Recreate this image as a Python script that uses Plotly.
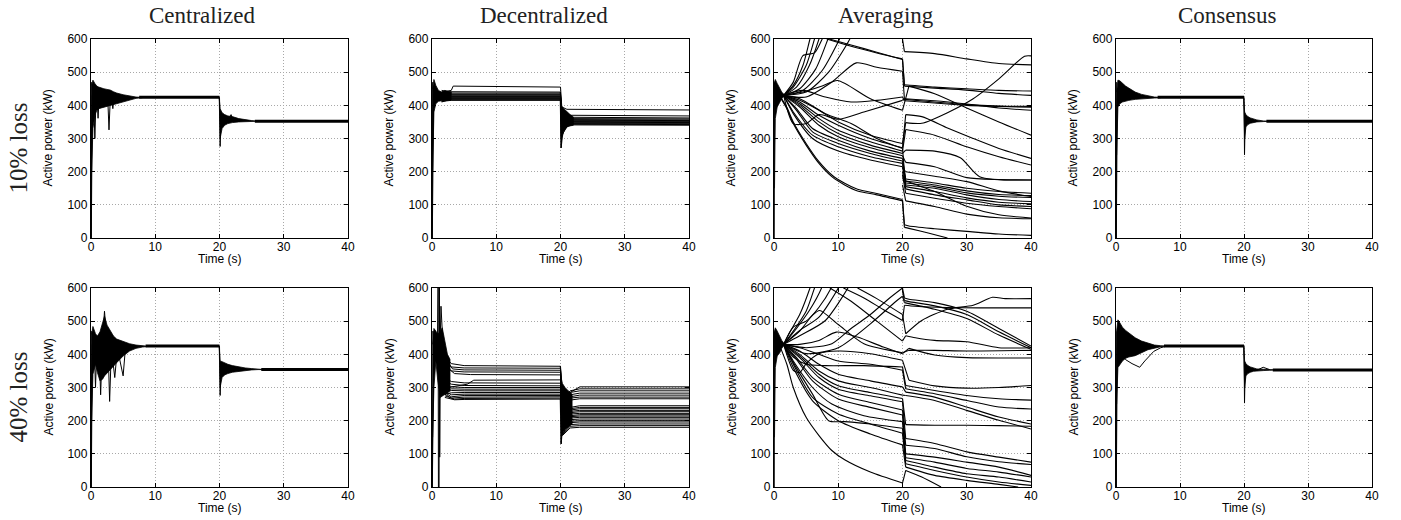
import plotly.graph_objects as go

W, H = 1401, 520

# ---------------- titles / labels ----------------
col_titles = ["Centralized", "Decentralized", "Averaging", "Consensus"]
row_titles = ["10% loss", "40% loss"]
x_title = "Time (s)"
y_title = "Active power (kW)"
x_ticks = [0, 10, 20, 30, 40]
y_ticks = [0, 100, 200, 300, 400, 500, 600]

# ---------------- Centralized 10% ----------------
cen10_band1_t = [0.1, 0.3, 0.6, 0.9, 1.2, 1.6, 2.0, 2.5, 3.0, 3.5, 4.0, 5.0, 6.0, 7.0, 8.0]
cen10_band1_hi = [460, 476, 466, 458, 455, 452, 450, 448, 446, 441, 437, 432, 428, 425, 424]
cen10_band1_lo = [200, 330, 370, 385, 390, 392, 395, 398, 400, 402, 404, 409, 416, 421, 423]
cen10_band2_t = [19.95, 20.1, 20.4, 20.8, 21.3, 22.0, 23.0, 24.0, 25.0, 26.0]
cen10_band2_hi = [424, 390, 378, 372, 368, 366, 360, 356, 354, 352]
cen10_band2_lo = [424, 300, 330, 340, 345, 348, 350, 351, 352, 352]
cen10_lines = [
    [[0.0, 0], [0.05, 0], [0.1, 470]],
    [[0.05, 0], [0.12, 200], [0.2, 430]],
    [[0.4, 440], [0.6, 300], [0.8, 430]],
    [[0.9, 440], [1.1, 361], [1.3, 440]],
    [[2.6, 425], [2.8, 326], [3.0, 420]],
    [[3.2, 420], [3.4, 390], [3.6, 425]],
    [[20.0, 424], [20.1, 276], [20.25, 380]],
    [[21.5, 360], [21.8, 372], [22.1, 355]],
]
cen10_flat = [[[7.5, 424], [20.0, 424]], [[25.5, 352], [40, 352]]]

# ---------------- Centralized 40% ----------------
cen40_band1_t = [0.1, 0.3, 0.7, 1.0, 1.4, 1.8, 2.1, 2.5, 3.0, 3.5, 4.0, 5.0, 6.0, 7.0, 8.0, 9.0]
cen40_band1_hi = [460, 484, 462, 455, 468, 500, 515, 488, 470, 455, 446, 438, 432, 428, 425, 424]
cen40_band1_lo = [200, 340, 370, 345, 320, 325, 335, 345, 355, 365, 375, 395, 410, 418, 422, 424]
cen40_band2_t = [19.95, 20.1, 20.4, 20.8, 21.3, 22.0, 23.0, 24.0, 25.0, 26.0, 27.0]
cen40_band2_hi = [425, 380, 378, 374, 370, 366, 362, 359, 357, 355, 354]
cen40_band2_lo = [425, 300, 330, 338, 342, 346, 349, 351, 353, 354, 354]
cen40_lines = [
    [[0.0, 0], [0.05, 0], [0.1, 470]],
    [[0.05, 0], [0.12, 200], [0.2, 430]],
    [[0.5, 430], [0.7, 300], [0.9, 420]],
    [[1.3, 400], [1.5, 278], [1.7, 390]],
    [[2.7, 390], [2.9, 258], [3.1, 375]],
    [[1.9, 470], [2.1, 530], [2.3, 480]],
    [[3.4, 380], [3.7, 330], [4.0, 395]],
    [[4.3, 400], [5.0, 335], [5.3, 405]],
    [[20.0, 425], [20.1, 276], [20.25, 375]],
]
cen40_flat = [[[8.5, 425], [20.0, 425]], [[26.5, 354], [40, 354]]]

# ---------------- Consensus 10% ----------------
con10_band1_t = [0.1, 0.3, 0.6, 1.0, 1.5, 2.0, 3.0, 4.0, 5.0, 6.0, 7.0]
con10_band1_hi = [440, 476, 474, 466, 458, 452, 440, 433, 428, 425, 424]
con10_band1_lo = [250, 395, 405, 410, 413, 415, 418, 420, 421, 422, 423]
con10_band2_t = [19.95, 20.1, 20.3, 20.6, 21.0, 21.5, 22.0, 23.0, 24.0]
con10_band2_hi = [424, 380, 372, 366, 362, 358, 356, 353, 352]
con10_band2_lo = [424, 300, 335, 342, 346, 349, 350, 351, 352]
con10_lines = [
    [[0.0, 0], [0.05, 0], [0.1, 470]],
    [[0.05, 0], [0.1, 250], [0.2, 420]],
    [[20.0, 424], [20.08, 251], [20.2, 370]],
]
con10_flat = [[[6.5, 424], [20.0, 424]], [[23.5, 352], [40, 352]]]

# ---------------- Consensus 40% ----------------
con40_band1_t = [0.1, 0.3, 0.6, 1.0, 1.5, 2.0, 3.0, 4.0, 5.0, 6.0, 7.0, 8.0]
con40_band1_hi = [470, 504, 495, 482, 472, 464, 450, 440, 433, 428, 426, 425]
con40_band1_lo = [250, 360, 370, 380, 388, 392, 396, 405, 414, 419, 423, 425]
con40_band2_t = [19.95, 20.1, 20.3, 20.6, 21.0, 21.5, 22.0, 23.0, 24.0, 25.0]
con40_band2_hi = [425, 380, 372, 366, 362, 358, 356, 355, 354, 353]
con40_band2_lo = [425, 300, 335, 342, 346, 349, 350, 351, 352, 353]
con40_lines = [
    [[0.0, 0], [0.05, 0], [0.1, 470]],
    [[0.05, 0], [0.1, 250], [0.2, 420]],
    [[1.0, 400], [1.5, 384], [2.5, 372], [3.7, 361], [4.5, 380], [5.9, 409], [7.0, 420], [8.0, 425]],
    [[20.0, 425], [20.08, 253], [20.2, 370]],
    [[22.0, 352], [23.0, 361], [24.0, 354]],
]
con40_flat = [[[7.5, 425], [20.0, 425]], [[24.5, 353], [40, 353]]]

# ---------------- Decentralized 10% ----------------
dec10_band1_t = [0.1, 0.3, 0.6, 1.0, 1.5, 2.0, 2.5, 3.0]
dec10_band1_hi = [450, 478, 460, 445, 440, 445, 442, 440]
dec10_band1_lo = [200, 380, 405, 412, 414, 415, 415, 415]
dec10_band2_t = [19.95, 20.1, 20.4, 21.0, 21.5, 22.0]
dec10_band2_hi = [440, 400, 392, 380, 372, 365]
dec10_band2_lo = [420, 272, 320, 335, 338, 340]
dec10_lines = [
    [[0.0, 0], [0.05, 0], [0.1, 470]],
    [[0.05, 0], [0.12, 250], [0.25, 440]],
    [[1.5, 440], [3.0, 445], [3.3, 458], [20, 455]],
    [[1.5, 445], [2.5, 441], [20, 440]],
    [[1.5, 420], [2.5, 437], [20, 437]],
    [[1.5, 430], [2.5, 434], [20, 434]],
    [[1.5, 425], [3.0, 432], [20, 432]],
    [[1.5, 418], [3.0, 429], [20, 429]],
    [[1.5, 435], [3.0, 427], [20, 427]],
    [[1.5, 412], [3.0, 425], [20, 425]],
    [[1.5, 440], [3.0, 423], [20, 423]],
    [[1.5, 415], [3.0, 421], [20, 421]],
    [[1.5, 410], [3.0, 419], [20, 419]],
    [[1.5, 420], [3.0, 417], [20, 417]],
    [[1.5, 412], [3.0, 415], [20, 415]],
    [[20, 455], [20.2, 395], [21, 388], [40, 386]],
    [[20, 440], [20.1, 300], [21.5, 370], [40, 368]],
    [[20, 437], [20.2, 330], [21.5, 364], [40, 362]],
    [[20, 434], [20.2, 340], [21.5, 360], [40, 359]],
    [[20, 432], [20.2, 350], [21.5, 357], [40, 356]],
    [[20, 429], [20.2, 320], [21.5, 355], [40, 354]],
    [[20, 427], [20.2, 335], [21.5, 353], [40, 352]],
    [[20, 425], [20.2, 310], [21.5, 351], [40, 350]],
    [[20, 423], [20.2, 345], [21.5, 349], [40, 348]],
    [[20, 421], [20.2, 330], [21.5, 347], [40, 346]],
    [[20, 419], [20.2, 340], [21.5, 345], [40, 344]],
    [[20, 417], [20.2, 320], [21.5, 343], [40, 342]],
    [[20, 415], [20.2, 335], [21.5, 341], [40, 340]],
    [[20.0, 430], [20.1, 272], [20.3, 380]],
]

# ---------------- Decentralized 40% ----------------
dec40_band1_t = [0.1, 0.3, 0.6, 0.9, 1.3, 1.6, 2.0, 2.4, 2.8]
dec40_band1_hi = [430, 478, 470, 460, 470, 480, 440, 400, 385]
dec40_band1_lo = [150, 300, 380, 320, 270, 275, 280, 285, 290]
dec40_band2_t = [19.95, 20.1, 20.3, 20.7, 21.2, 21.8]
dec40_band2_hi = [365, 330, 312, 300, 290, 280]
dec40_band2_lo = [265, 130, 170, 175, 180, 190]
dec40_lines = [
    [[0.0, 0], [0.05, 0], [0.15, 470], [0.3, 430], [0.5, 465], [0.7, 420], [0.9, 440]],
    [[0.05, 0], [0.15, 300], [0.3, 450], [0.5, 400], [0.7, 455], [0.9, 400]],
    [[0.85, 430], [0.95, 610], [1.0, 0], [1.1, 0], [1.15, 610], [1.2, 90], [1.3, 400]],
    [[1.25, 420], [1.4, 545], [1.6, 470], [1.9, 420], [2.3, 390]],
    [[2.0, 395], [3.0, 372], [5, 366], [20, 364]],
    [[2.0, 380], [3.0, 362], [5, 359], [20, 358]],
    [[2.2, 385], [3.2, 356], [5, 353], [20, 352]],
    [[2.0, 370], [3.0, 350], [5, 347], [20, 346]],
    [[2.4, 360], [3.5, 342], [6, 339], [20, 338]],
    [[2.5, 300], [4.0, 305], [5.5, 310], [6.5, 322], [20, 323]],
    [[2.0, 330], [3.0, 318], [5, 314], [20, 313]],
    [[2.0, 320], [3.0, 310], [5, 306], [20, 305]],
    [[2.0, 300], [3.0, 302], [5, 300], [20, 300]],
    [[2.0, 290], [3.0, 296], [5, 295], [20, 295]],
    [[2.0, 285], [3.0, 291], [5, 290], [20, 290]],
    [[2.0, 280], [3.0, 284], [5, 285], [20, 285]],
    [[2.0, 290], [3.0, 278], [5, 280], [20, 280]],
    [[2.0, 285], [3.0, 272], [5, 276], [20, 276]],
    [[2.0, 280], [3.0, 268], [5, 271], [20, 272]],
    [[2.0, 275], [3.5, 265], [5, 267], [20, 268]],
    [[2.0, 270], [3.5, 263], [5, 264], [20, 265]],
    [[20, 364], [20.3, 270], [21.5, 285], [23, 302], [40, 302]],
    [[20, 358], [20.3, 260], [21.5, 290], [23, 296], [40, 296]],
    [[20, 352], [20.3, 250], [21.5, 285], [23, 290], [40, 290]],
    [[20, 346], [20.3, 240], [21.5, 278], [23, 283], [40, 283]],
    [[20, 338], [20.3, 235], [21.5, 272], [23, 277], [40, 277]],
    [[20, 323], [20.3, 230], [21.5, 268], [23, 271], [40, 271]],
    [[20, 313], [20.3, 225], [21.5, 262], [23, 266], [40, 266]],
    [[20, 305], [20.3, 200], [21.5, 240], [23, 245], [40, 245]],
    [[20, 300], [20.3, 195], [21.5, 236], [23, 240], [40, 240]],
    [[20, 295], [20.3, 190], [21.5, 232], [23, 236], [40, 236]],
    [[20, 290], [20.3, 185], [21.5, 228], [23, 231], [40, 231]],
    [[20, 285], [20.3, 180], [21.5, 224], [23, 227], [40, 227]],
    [[20, 280], [20.3, 175], [21.5, 220], [23, 222], [40, 222]],
    [[20, 276], [20.3, 172], [21.5, 215], [23, 218], [40, 218]],
    [[20, 272], [20.3, 170], [21.5, 212], [23, 214], [40, 214]],
    [[20, 268], [20.3, 168], [21.5, 208], [23, 210], [40, 210]],
    [[20, 265], [20.3, 166], [21.5, 203], [23, 205], [40, 205]],
    [[20, 300], [20.3, 165], [21.5, 198], [23, 200], [40, 200]],
    [[20, 290], [20.3, 162], [21.5, 194], [23, 196], [40, 196]],
    [[20, 285], [20.3, 160], [21.5, 188], [23, 190], [40, 190]],
    [[20, 280], [20.3, 158], [21.5, 183], [23, 185], [40, 185]],
    [[20, 275], [20.3, 155], [21.5, 178], [23, 180], [40, 180]],
    [[20.0, 300], [20.1, 130], [20.3, 250]],
]

# ---------------- Averaging 10% ----------------
avg10_band1_t = [0.08, 0.2, 0.5, 0.9, 1.2, 1.6]
avg10_band1_hi = [470, 478, 466, 452, 440, 432]
avg10_band1_lo = [150, 360, 395, 410, 420, 428]
avg10_lines = [[[0.0, 0], [0.04, 0], [0.08, 470]]]
avg10_pre = [
    [[1.5, 430], [3, 460], [4.5, 520], [5.6, 600], [6, 625]],
    [[1.5, 430], [3, 470], [4.5, 550], [6.3, 558], [7.5, 600], [8, 620]],
    [[1.5, 430], [3, 455], [5, 520], [6.3, 600], [6.6, 620]],
    [[1.5, 430], [3.5, 455], [5.5, 520], [7, 600], [7.3, 620]],
    [[1.5, 430], [4, 450], [6.5, 510], [8.4, 600], [8.8, 620]],
    [[1.5, 430], [4.5, 445], [7.5, 505], [10.2, 600], [10.6, 620]],
    [[1.5, 430], [5, 440], [8.5, 500], [11.8, 600], [12.2, 620]],
    [[8.2, 600], [12, 578], [16, 558], [20, 540]],
    [[8.6, 600], [12, 582], [16, 560], [20, 538]],
    [[1.5, 430], [5, 425], [9, 470], [12.8, 528], [16, 515], [20, 503]],
    [[1.5, 430], [4.5, 440], [7.5, 458], [9.9, 475], [15, 420], [20, 385]],
    [[1.5, 430], [4.5, 445], [8, 425], [12, 410], [16, 415], [20, 425]],
    [[1.5, 430], [3, 345], [5, 345], [7, 372], [10, 358], [14, 380], [20, 415]],
    [[1.5, 430], [4, 415], [7, 385], [10, 350], [15, 310], [20, 285]],
    [[1.5, 430], [4, 410], [7, 370], [10, 340], [15, 300], [20, 272]],
    [[1.5, 430], [4, 405], [7, 360], [10, 325], [15, 290], [20, 262]],
    [[1.5, 430], [4, 400], [7, 350], [10, 315], [15, 280], [20, 255]],
    [[1.5, 430], [4, 395], [7, 340], [10, 305], [15, 272], [20, 248]],
    [[1.5, 430], [3.5, 390], [6, 330], [10, 295], [15, 262], [20, 240]],
    [[1.5, 430], [3.5, 385], [6, 320], [10, 285], [15, 255], [20, 232]],
    [[1.5, 430], [3, 380], [6, 310], [10, 275], [15, 245], [20, 225]],
    [[1.5, 430], [3, 375], [6, 300], [10, 262], [15, 235], [20, 215]],
    [[1.5, 430], [4, 420], [8, 375], [12, 345], [16, 300], [20, 270]],
    [[0.8, 430], [2, 390], [3, 345], [5, 280], [7, 225], [9, 185], [11, 160], [13, 142], [16, 130], [20, 112]],
    [[0.8, 432], [2, 394], [3, 350], [5, 285], [7, 230], [9, 190], [11, 165], [13, 147], [16, 134], [20, 116]],
]
avg10_post = [
    [[20, 600], [20.3, 562], [25, 556], [30, 540], [35, 526], [40, 522]],
    [[20, 540], [20.3, 462], [25, 455], [30, 450], [35, 445], [40, 443]],
    [[20, 538], [20.3, 458], [25, 452], [30, 446], [35, 436], [40, 430]],
    [[20, 503], [20.3, 418], [25, 410], [30, 402], [35, 398], [40, 397]],
    [[20, 425], [20.3, 414], [25, 407], [30, 400], [35, 397], [40, 394]],
    [[20, 415], [20.5, 420], [25, 414], [30, 404], [35, 392], [40, 385]],
    [[20, 385], [21, 458], [25, 435], [30, 392], [35, 350], [40, 310]],
    [[20, 285], [20.5, 348], [23, 346], [27, 378], [31, 420], [35, 480], [39, 548], [40, 549]],
    [[20, 272], [20.5, 372], [23, 366], [27, 332], [31, 300], [35, 270], [40, 240]],
    [[20, 262], [20.5, 327], [25, 310], [30, 275], [35, 245], [40, 220]],
    [[20, 255], [20.5, 265], [25, 262], [29, 242], [32, 185], [40, 175]],
    [[20, 248], [20.5, 228], [25, 215], [30, 182], [35, 176], [40, 175]],
    [[20, 240], [20.5, 178], [25, 166], [30, 150], [35, 140], [40, 135]],
    [[20, 232], [20.5, 172], [25, 160], [30, 142], [35, 131], [40, 128]],
    [[20, 225], [20.5, 166], [25, 155], [30, 136], [35, 126], [40, 122]],
    [[20, 215], [20.5, 160], [25, 150], [30, 130], [35, 116], [40, 110]],
    [[20, 270], [20.5, 155], [25, 140], [30, 121], [35, 108], [40, 103]],
    [[20, 200], [20.5, 148], [25, 130], [30, 115], [35, 100], [40, 95]],
    [[20, 190], [20.5, 135], [25, 120], [30, 105], [35, 95], [40, 88]],
    [[20, 180], [20.5, 172], [25, 140], [30, 96], [35, 70], [40, 60]],
    [[20, 160], [20.5, 112], [25, 95], [30, 72], [35, 61], [40, 58]],
    [[20, 115], [20.3, 40], [21, 36], [25, 28], [30, 20], [35, 12], [40, 8]],
    [[20, 112], [20.3, 32], [21, 29], [24, 15], [27, 0]],
    [[20, 210], [20.5, 200], [25, 186], [30, 170], [35, 142], [40, 125]],
]

# ---------------- Averaging 40% ----------------
avg40_band1_t = [0.08, 0.2, 0.5, 0.9, 1.2, 1.6]
avg40_band1_hi = [470, 480, 470, 455, 442, 432]
avg40_band1_lo = [150, 360, 395, 405, 418, 428]
avg40_lines = [[[0.0, 0], [0.04, 0], [0.08, 470]]]
avg40_pre = [
    [[1.5, 430], [2.5, 468], [4, 520], [5.6, 600], [6, 625]],
    [[1.5, 430], [3, 470], [5, 530], [6.3, 600], [6.7, 625]],
    [[1.5, 430], [3.5, 478], [5.5, 532], [7.4, 600], [7.8, 625]],
    [[1.5, 430], [3, 482], [5, 500], [7, 542], [8.9, 600], [9.3, 620]],
    [[1.5, 430], [4, 472], [7, 512], [10, 600], [10.4, 620]],
    [[1.5, 430], [4, 456], [8, 502], [11.5, 600], [12, 620]],
    [[1.5, 430], [5, 420], [9, 432], [12, 478], [15, 520], [18, 570], [20, 600]],
    [[1.5, 430], [5, 402], [10, 420], [15, 492], [19, 560], [20, 575]],
    [[8.7, 600], [12, 560], [16, 500], [20, 440]],
    [[10.8, 600], [14, 570], [17, 535], [20, 502]],
    [[13, 600], [16, 568], [20, 520]],
    [[1.5, 430], [4, 470], [6, 518], [7.1, 532], [10, 490], [14, 432], [20, 405]],
    [[1.5, 430], [4, 430], [7, 442], [9.7, 467], [13, 452], [17, 422], [20, 402]],
    [[1.5, 430], [3, 392], [5, 370], [8, 366], [14, 366], [20, 362]],
    [[1.5, 430], [3, 352], [4, 345], [5, 372], [7, 402], [10, 410], [15, 402], [20, 382]],
    [[1.5, 430], [4, 420], [7, 400], [10, 380], [15, 370], [20, 352]],
    [[1.5, 430], [4, 410], [7, 370], [10, 340], [15, 320], [20, 302]],
    [[1.5, 430], [4, 400], [7, 350], [10, 320], [15, 300], [20, 277]],
    [[1.5, 430], [4, 395], [7, 340], [10, 305], [15, 285], [20, 267]],
    [[1.5, 430], [4, 390], [7, 330], [10, 295], [15, 275], [20, 257]],
    [[1.5, 430], [3.5, 390], [6, 330], [10, 280], [15, 255], [20, 232]],
    [[1.5, 430], [3.5, 385], [6, 320], [10, 265], [15, 240], [20, 217]],
    [[1.5, 430], [3, 380], [6, 300], [9, 250], [14, 215], [20, 197]],
    [[1.5, 430], [3, 375], [6, 280], [8.5, 200], [11, 197], [15, 190], [20, 177]],
    [[1.5, 430], [3, 370], [6, 270], [10, 220], [15, 190], [20, 162]],
    [[1.5, 430], [3, 360], [6, 260], [10, 200], [15, 160], [20, 127]],
    [[0.8, 430], [2, 370], [3, 300], [5, 210], [7, 155], [9, 110], [11, 82], [15, 45], [20, 12]],
]
avg40_post = [
    [[20, 600], [20.3, 570], [21, 566], [25, 556], [30, 530], [35, 478], [40, 425]],
    [[20, 590], [20.3, 562], [21, 559], [25, 546], [30, 520], [35, 468], [40, 420]],
    [[20, 575], [20.3, 556], [25, 536], [30, 508], [35, 458], [40, 415]],
    [[20, 520], [20.5, 462], [23, 502], [27, 536], [31, 548], [34, 572], [36, 568], [40, 568]],
    [[20, 502], [20.3, 548], [22, 545], [27, 541], [32, 540], [40, 540]],
    [[20, 440], [20.5, 456], [22, 450], [25, 442], [30, 438], [35, 420], [40, 420]],
    [[20, 405], [21, 412], [25, 412], [30, 410], [40, 412]],
    [[20, 402], [21, 418], [25, 398], [30, 390], [40, 389]],
    [[20, 382], [21, 322], [25, 305], [30, 298], [35, 300], [40, 306]],
    [[20, 362], [20.5, 306], [25, 291], [30, 276], [35, 266], [40, 262]],
    [[20, 352], [20.5, 296], [25, 281], [30, 261], [35, 241], [40, 235]],
    [[20, 302], [20.5, 286], [25, 271], [30, 241], [35, 211], [40, 190]],
    [[20, 277], [20.5, 276], [25, 261], [30, 231], [35, 201], [40, 175]],
    [[20, 267], [20.5, 188], [25, 186], [30, 186], [35, 185], [40, 183]],
    [[20, 257], [20.5, 146], [25, 131], [30, 106], [35, 90], [40, 75]],
    [[20, 232], [20.5, 126], [25, 116], [30, 91], [35, 76], [40, 68]],
    [[20, 217], [20.5, 100], [25, 90], [30, 75], [35, 60], [40, 35]],
    [[20, 197], [20.5, 88], [25, 75], [30, 56], [35, 45], [40, 30]],
    [[20, 177], [20.5, 80], [25, 60], [30, 40], [35, 30], [40, 15]],
    [[20, 162], [20.5, 70], [25, 50], [30, 30], [35, 15], [40, 5]],
    [[20, 127], [20.5, 60], [25, 35], [30, 20], [35, 8], [38, 0]],
    [[20, 12], [20.5, 50], [23, 30], [26, 0]],
]

# ---------------- layout geometry (pixels) ----------------
col_px = [(91, 348), (432, 689), (774, 1031), (1116, 1372)]
row_px = [(39, 238), (288, 487)]


def join(lines):
    xs, ys = [], []
    for ln in lines:
        for t, v in ln:
            xs.append(t)
            ys.append(v)
        xs.append(None)
        ys.append(None)
    return xs, ys


def band(t, hi, lo):
    return list(t) + list(t)[::-1], list(hi) + list(lo)[::-1]


panels = [
    dict(bands=[(cen10_band1_t, cen10_band1_hi, cen10_band1_lo), (cen10_band2_t, cen10_band2_hi, cen10_band2_lo)],
         lines=cen10_lines, flat=cen10_flat),
    dict(bands=[(dec10_band1_t, dec10_band1_hi, dec10_band1_lo), (dec10_band2_t, dec10_band2_hi, dec10_band2_lo)],
         lines=dec10_lines),
    dict(bands=[(avg10_band1_t, avg10_band1_hi, avg10_band1_lo)], lines=avg10_lines,
         pre=avg10_pre, post=avg10_post),
    dict(bands=[(con10_band1_t, con10_band1_hi, con10_band1_lo), (con10_band2_t, con10_band2_hi, con10_band2_lo)],
         lines=con10_lines, flat=con10_flat),
    dict(bands=[(cen40_band1_t, cen40_band1_hi, cen40_band1_lo), (cen40_band2_t, cen40_band2_hi, cen40_band2_lo)],
         lines=cen40_lines, flat=cen40_flat),
    dict(bands=[(dec40_band1_t, dec40_band1_hi, dec40_band1_lo), (dec40_band2_t, dec40_band2_hi, dec40_band2_lo)],
         lines=dec40_lines),
    dict(bands=[(avg40_band1_t, avg40_band1_hi, avg40_band1_lo)], lines=avg40_lines,
         pre=avg40_pre, post=avg40_post),
    dict(bands=[(con40_band1_t, con40_band1_hi, con40_band1_lo), (con40_band2_t, con40_band2_hi, con40_band2_lo)],
         lines=con40_lines, flat=con40_flat),
]

fig = go.Figure()
layout = dict(
    width=W, height=H, margin=dict(l=0, r=0, t=0, b=0, pad=0, autoexpand=False),
    paper_bgcolor="white", plot_bgcolor="white", showlegend=False,
)
annotations = []
sans = "Liberation Sans, Arial, sans-serif"
serif = "Liberation Serif, Times New Roman, serif"
tick_font = dict(family=sans, size=12, color="black")

for i, p in enumerate(panels):
    r, c = divmod(i, 4)
    n = i + 1
    xa = "x" if n == 1 else f"x{n}"
    ya = "y" if n == 1 else f"y{n}"
    x0, x1 = col_px[c]
    y0, y1 = row_px[r]
    common = dict(showline=True, linecolor="black", linewidth=1.3, mirror="ticks",
                  ticks="inside", ticklen=4, tickwidth=1, tickcolor="black",
                  showgrid=True, gridcolor="#a8a8a8", griddash="1px,2px", gridwidth=1,
                  zeroline=False, tickfont=tick_font, fixedrange=True, automargin=False)
    layout["xaxis" if n == 1 else f"xaxis{n}"] = dict(
        domain=[x0 / W, x1 / W], anchor=ya, range=[0, 40], tickvals=x_ticks,
        ticklabelstandoff=-3, **common)
    layout["yaxis" if n == 1 else f"yaxis{n}"] = dict(
        domain=[1 - y1 / H, 1 - y0 / H], anchor=xa, range=[0, 600], tickvals=y_ticks, **common)

    for (bt, bh, bl) in p["bands"]:
        bx, by = band(bt, bh, bl)
        fig.add_trace(go.Scatter(x=bx, y=by, xaxis=xa, yaxis=ya, mode="lines", fill="toself",
                                 fillcolor="black", line=dict(color="black", width=0.8),
                                 hoverinfo="skip"))
    lx, ly = join(p["lines"])
    fig.add_trace(go.Scatter(x=lx, y=ly, xaxis=xa, yaxis=ya, mode="lines",
                             line=dict(color="black", width=1), hoverinfo="skip"))
    if "flat" in p:
        fx, fy = join(p["flat"])
        fig.add_trace(go.Scatter(x=fx, y=fy, xaxis=xa, yaxis=ya, mode="lines",
                                 line=dict(color="black", width=3), hoverinfo="skip"))
    if "pre" in p:
        px_, py_ = join(p["pre"])
        fig.add_trace(go.Scatter(x=px_, y=py_, xaxis=xa, yaxis=ya, mode="lines",
                                 line=dict(color="black", width=1.1, shape="spline", smoothing=0.7),
                                 hoverinfo="skip"))
        jumps = [ln[:2] for ln in p["post"]]
        curves = [ln[1:] for ln in p["post"]]
        jx, jy = join(jumps)
        fig.add_trace(go.Scatter(x=jx, y=jy, xaxis=xa, yaxis=ya, mode="lines",
                                 line=dict(color="black", width=1.1), hoverinfo="skip"))
        cx, cy = join(curves)
        fig.add_trace(go.Scatter(x=cx, y=cy, xaxis=xa, yaxis=ya, mode="lines",
                                 line=dict(color="black", width=1.1, shape="spline", smoothing=0.7),
                                 hoverinfo="skip"))

    annotations.append(dict(text=x_title, xref="paper", yref="paper",
                            x=(x0 + x1) / 2 / W, y=1 - (y1 + 21) / H, showarrow=False,
                            xanchor="center", yanchor="middle",
                            font=dict(family=sans, size=12, color="black")))
    annotations.append(dict(text=y_title, xref="paper", yref="paper",
                            x=(x0 - 43) / W, y=1 - (y0 + y1) / 2 / H, showarrow=False, textangle=-90,
                            xanchor="center", yanchor="middle",
                            font=dict(family=sans, size=12, color="black")))

for c, title in enumerate(col_titles):
    x0, x1 = col_px[c]
    annotations.append(dict(text=title, xref="paper", yref="paper",
                            x=((x0 + x1) / 2 - 17) / W, y=1 - 15 / H, showarrow=False,
                            xanchor="center", yanchor="middle",
                            font=dict(family=serif, size=23, color="#222")))

for r, title in enumerate(row_titles):
    y0, y1 = row_px[r]
    annotations.append(dict(text=title, xref="paper", yref="paper",
                            x=18 / W, y=1 - ((y0 + y1) / 2 + 10) / H, showarrow=False, textangle=-90,
                            xanchor="center", yanchor="middle",
                            font=dict(family=serif, size=25, color="#222")))

layout["annotations"] = annotations
fig.update_layout(**layout)
fig.write_html("out.html", config={"displayModeBar": False},
               post_script="document.body.style.margin='0px';document.body.style.overflow='hidden';")
